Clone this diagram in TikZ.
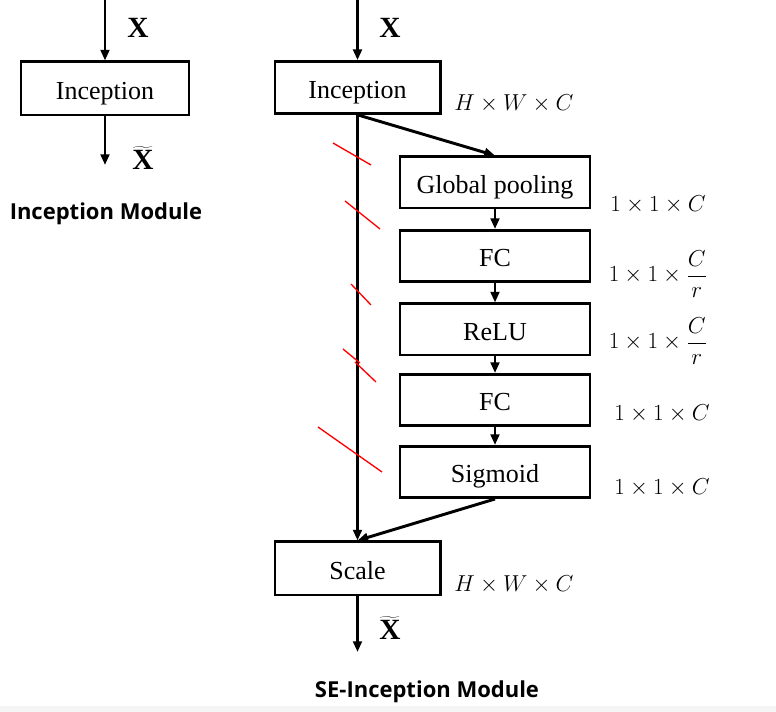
\documentclass[tikz,border=0pt]{standalone}
\usepackage{fontspec}
\setmainfont{Liberation Serif}
\newfontfamily\titlefont{Open Sans}
\usetikzlibrary{arrows.meta}
\begin{document}
\begin{tikzpicture}[x=0.75pt,y=-0.75pt,
  boxtext/.style={draw,line width=2pt,inner sep=0pt,text height=16.5pt,text depth=0pt,font=\fontsize{19.5}{22}\selectfont},
  smallbox/.style={boxtext,minimum width=124pt,minimum height=39pt},
  bigbox/.style={boxtext,minimum width=142.5pt,minimum height=38.5pt},
  conn/.style={line width=2.2pt,-{Triangle[length=8pt,width=6.5pt]}},
  xlab/.style={inner sep=0pt,font=\fontsize{22}{24}\selectfont\bfseries},
  dimlab/.style={inner sep=0pt,font=\fontsize{16.5}{20}\selectfont},
  title/.style={inner sep=0pt,font=\titlefont\bfseries\fontsize{16.5}{20}\selectfont},
  redmark/.style={red,line width=1pt}]
\useasboundingbox (0,0) rectangle (776,712);
\fill[gray!8] (0,706) rectangle (776,712);

% left: Inception module
\node[smallbox,minimum width=126pt,minimum height=40pt] (inL) at (105,88.5) {Inception};
\coordinate (inLtop) at (105,0);
\coordinate (outL) at (105,165);
\draw[conn] (inLtop) -- (inL);
\draw[conn] (inL) -- (outL);
\node[xlab] (xL) at (138,28) {X};
\node[xlab] (xtL) at (143,158) {$\widetilde{\mbox{\bfseries X}}$};
\node[title] (tL) at (106,214) {Inception Module};

% right: SE-Inception module
\node[smallbox] (inR) at (357.5,87.5) {Inception};
\coordinate (inRtop) at (357.5,0);
\draw[conn] (inRtop) -- (inR);
\node[xlab] (xR) at (390,28) {X};
\node[dimlab] (hw1) at (514,104) {$H\times W\times C$};

\node[bigbox] (gp) at (495,182.5) {Global pooling};
\node[bigbox] (fc1) at (495,256) {FC};
\node[bigbox] (relu) at (495,329.5) {ReLU};
\node[bigbox] (fc2) at (495,400) {FC};
\node[bigbox] (sig) at (495,472) {Sigmoid};
\node[smallbox,minimum height=40pt] (sc) at (357.5,568.5) {Scale};

\draw[conn] (inR.south) -- (sc.north);
\draw[conn] (inR.south) -- (gp.north);
\draw[conn] (gp) -- (fc1);
\draw[conn] (fc1) -- (relu);
\draw[conn] (relu) -- (fc2);
\draw[conn] (fc2) -- (sig);
\draw[conn] (sig.south) -- (sc.north);
\coordinate (outR) at (357.5,652);
\draw[conn] (sc) -- (outR);
\node[xlab] (xtR) at (390,628) {$\widetilde{\mbox{\bfseries X}}$};
\node[dimlab] (hw2) at (514,585) {$H\times W\times C$};

\node[dimlab] (d1) at (658,205) {$1\times1\times C$};
\node[dimlab] (d2) at (658,274) {$\displaystyle 1\times1\times\frac{C}{r}$};
\node[dimlab] (d3) at (658,341) {$\displaystyle 1\times1\times\frac{C}{r}$};
\node[dimlab] (d4) at (662,414) {$1\times1\times C$};
\node[dimlab] (d5) at (662,488) {$1\times1\times C$};

\node[title] (tR) at (427,692) {SE-Inception Module};

% red marks
\draw[redmark] (333,143) -- (371,165);
\draw[redmark] (345,201) -- (380,229);
\draw[redmark] (351,284) -- (371,305);
\draw[redmark] (343,349) -- (360,363);
\draw[redmark] (355,362) -- (376,382);
\draw[redmark] (318,427) -- (382,472);
\end{tikzpicture}
\end{document}
